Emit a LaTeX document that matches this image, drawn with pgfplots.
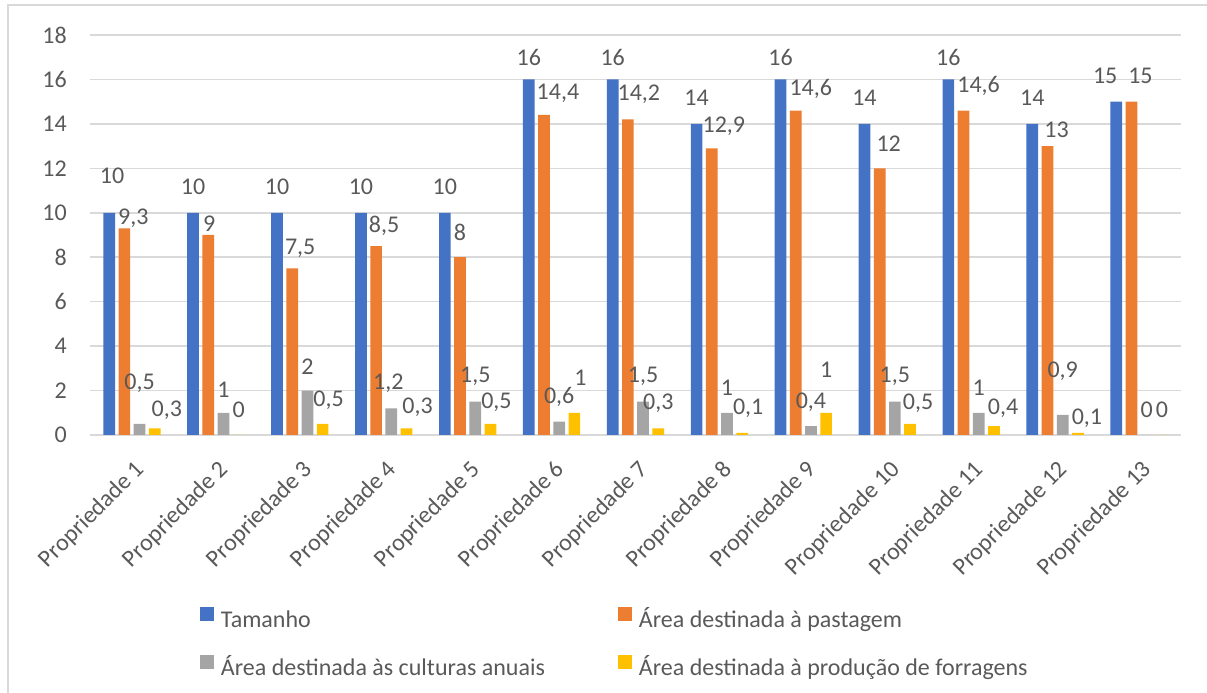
\documentclass[border=0pt]{standalone}
\usepackage{pgfplots}
\pgfplotsset{compat=1.18}
\usepackage{pgfplotstable}
\usepackage{fontspec}
\setmainfont{Carlito}
\definecolor{cblue}{HTML}{4472C4}
\definecolor{corange}{HTML}{ED7D31}
\definecolor{cgray}{HTML}{A5A5A5}
\definecolor{cyellow}{HTML}{FFC000}
\definecolor{ctext}{HTML}{595959}
\definecolor{cgrid}{HTML}{D9D9D9}

\pgfplotstableread{
x y dx dy
0 10 3 37
1 10 0 26
2 10 0 26
3 10 0 26
4 10 0 26
5 16 0 22
6 16 0 22
7 14 0 26
8 16 0 22
9 14 0 26
10 16 0 22
11 14 0 26
12 15 -11 26
}\tamanho
\pgfplotstableread{
x y dx dy
0 9.3 9 10
1 9 1 11
2 7.5 8 20
3 8.5 8 20
4 8 0 25
5 14.4 14 22
6 14.2 11 25
7 12.9 12 22
8 14.6 15 22
9 12 9 25
10 14.6 15 25
11 13 9 16
12 15 9 26
}\pastagem
\pgfplotstableread{
x y dx dy
0 0.5 0 41
1 1 0 23
2 2 0 24
3 1.2 -3 25
4 1.5 0 25
5 0.6 0 25
6 1.5 0 25
7 1 0 25
8 0.4 0 24
9 1.5 0 25
10 1 0 25
11 0.9 0 44
12 0 0 25
}\culturas
\pgfplotstableread{
x y dx dy
0 0.3 12 18
1 0 0 25
2 0.5 6 24
3 0.3 11 21
4 0.5 6 22
5 1 6 35
6 0.3 0 25
7 0.1 6 25
8 1 0 43
9 0.5 8 21
10 0.4 9 18
11 0.1 9 15
12 0 0 25
}\forragens

\pgfplotsset{
  lbl/.style={
    visualization depends on={\thisrow{dx} \as \dx},
    visualization depends on={\thisrow{dy} \as \dy},
    nodes near coords,
    every node near coord/.append style={font=\fontsize{24}{29}\selectfont, text=ctext, anchor=center, inner sep=0pt, xshift=\dx pt, yshift=\dy pt},
  }
}

\begin{document}
\begin{tikzpicture}[x=1pt,y=1pt]
\useasboundingbox (0,0) rectangle (1207,693);
\draw[cgrid, line width=1.5pt] (8,688) rectangle (1240,-30);
\begin{axis}[
  at={(90pt,258pt)}, anchor=south west,
  scale only axis, width=1091pt, height=400pt,
  xmin=-0.5, xmax=12.5, ymin=0, ymax=18,
  ytick={0,2,...,18}, xtick={0,...,12},
  xticklabels={Propriedade 1,Propriedade 2,Propriedade 3,Propriedade 4,Propriedade 5,Propriedade 6,Propriedade 7,Propriedade 8,Propriedade 9,Propriedade 10,Propriedade 11,Propriedade 12,Propriedade 13},
  major tick length=0pt,
  axis line style={draw=none},
  ymajorgrids, grid style={cgrid, line width=1.5pt},
  ybar=3.5pt, bar width=11.7pt,
  /pgf/number format/.cd, use comma, assume math mode=true, 1000 sep={}, /pgfplots/.cd,
  tick label style={font=\fontsize{24}{29}\selectfont, text=ctext},
  yticklabel style={inner sep=0pt, xshift=-23pt, anchor=east},
  xticklabel style={inner sep=0pt, xshift=9pt, yshift=-31pt, rotate=45, anchor=east},
  every axis plot post/.append style={legend image code/.code={\fill[##1] (0pt,1pt) rectangle (14pt,15pt);}},
  legend columns=2,
  legend cell align=left,
  legend style={
    at={(axis description cs:0.1008,-0.43)}, anchor=north west,
    draw=none, fill=none, inner sep=0pt, outer sep=0pt,
    font=\fontsize{24}{29}\selectfont, text=ctext,
    column sep=7pt, row sep=22pt,
    nodes={inner sep=0pt, text height=17pt, text depth=6pt},
  },
]
\addplot[fill=cblue, draw=none, lbl] table[x=x,y=y] {\tamanho};
\addlegendentry{\makebox[390pt][l]{Tamanho}}
\addplot[fill=corange, draw=none, lbl] table[x=x,y=y] {\pastagem};
\addlegendentry{Área destinada à pastagem}
\addplot[fill=cgray, draw=none, lbl] table[x=x,y=y] {\culturas};
\addlegendentry{\makebox[390pt][l]{Área destinada às culturas anuais}}
\addplot[fill=cyellow, draw=none, lbl] table[x=x,y=y] {\forragens};
\addlegendentry{Área destinada à produção de forragens}
\end{axis}
\end{tikzpicture}
\end{document}
